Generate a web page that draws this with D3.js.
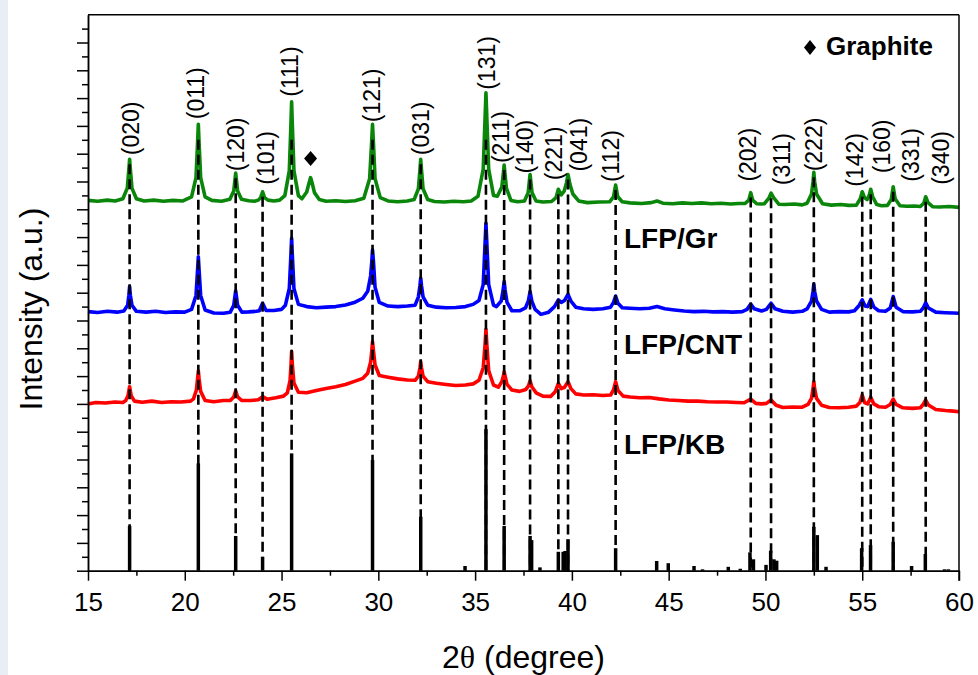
<!DOCTYPE html>
<html lang="en">
<head>
  <meta charset="UTF-8">
  <title>XRD patterns - LFP/Gr, LFP/CNT, LFP/KB</title>
  <script src="https://d3js.org/d3.v7.min.js"></script>
  <style>
    body {
      margin: 0;
      background: #fff;
      font-family: "Liberation Sans", Arial, sans-serif;
    }
    .trace {
      fill: none;
      stroke-width: 3.6;
      stroke-linejoin: round;
    }
    .stick {
      stroke: #000;
      stroke-width: 3.5;
    }
    .guide {
      stroke: #000;
      stroke-width: 2.6;
      stroke-dasharray: 10, 5;
    }
    .axis path,
    .axis line {
      stroke: #000;
      stroke-width: 1.5;
    }
    .axis text {
      font-family: "Liberation Sans", Arial, sans-serif;
      font-size: 26px;
      fill: #000;
    }
    .hkl {
      font-size: 23px;
      fill: #000;
    }
    .sample {
      font-size: 28px;
      font-weight: bold;
      fill: #000;
    }
    .axis-title {
      font-size: 32px;
      fill: #000;
    }
  </style>
</head>
<body>
  <div id="chart"></div>
  <script>
    // measured patterns, [2theta, intensity a.u.] (stacked offsets included)
    const grPattern = [
      [15.0,13.32],[15.5,13.29],[16.0,13.33],[16.4,13.30],
      [16.80,13.38],[17.03,13.76],[17.11,14.43],[17.15,14.80],[17.19,14.43],[17.27,13.76],[17.50,13.38],
      [17.9,13.30],[18.4,13.33],[18.9,13.29],[19.4,13.32],[19.9,13.30],
      [20.35,13.45],[20.58,14.14],[20.66,15.37],[20.70,16.06],[20.74,15.37],[20.82,14.14],[21.05,13.45],
      [21.4,13.32],[21.9,13.29],
      [22.33,13.36],[22.53,13.66],[22.63,14.30],[22.73,13.66],[22.93,13.36],
      [23.3,13.31],[23.6,13.29],
      [23.80,13.33],[23.92,13.42],[24.02,13.63],[24.12,13.42],[24.30,13.33],
      [24.6,13.30],[24.9,13.33],
      [25.17,13.49],[25.40,14.38],[25.48,15.98],[25.52,16.87],[25.56,15.98],[25.64,14.38],[25.87,13.49],
      [26.05,13.38],[26.30,13.62],[26.42,13.95],[26.50,14.14],[26.58,13.95],[26.70,13.60],[26.95,13.35],
      [27.3,13.29],[27.8,13.31],[28.3,13.28],[28.8,13.31],
      [29.25,13.40],[29.55,14.10],[29.65,15.35],[29.70,16.06],[29.75,15.35],[29.83,14.10],[30.10,13.42],
      [30.5,13.30],[31.0,13.27],[31.5,13.30],
      [31.85,13.35],[32.07,13.74],[32.15,14.42],[32.19,14.80],[32.23,14.42],[32.31,13.74],[32.55,13.35],
      [32.9,13.28],[33.4,13.26],[33.9,13.29],[34.4,13.27],[34.8,13.30],
      [35.15,13.47],[35.42,14.45],[35.51,16.20],[35.56,17.19],[35.61,16.20],[35.70,14.45],[35.95,13.50],
      [36.15,13.47],[36.38,13.80],[36.46,14.30],[36.50,14.59],[36.54,14.30],[36.62,13.75],[36.85,13.32],
      [37.2,13.27],
      [37.55,13.30],[37.74,13.60],[37.84,14.25],[37.94,13.60],[38.15,13.30],
      [38.5,13.26],
      [38.95,13.28],[39.18,13.42],[39.30,13.72],[39.45,13.52],[39.60,13.65],[39.72,13.95],[39.80,14.25],[39.90,13.90],[40.05,13.55],[40.35,13.30],
      [40.8,13.24],[41.4,13.26],
      [41.95,13.27],[42.15,13.45],[42.26,13.87],[42.37,13.45],[42.60,13.27],
      [43.0,13.23],[43.6,13.21],[44.1,13.24],[44.4,13.30],[44.7,13.22],[45.2,13.20],[45.7,13.23],[46.2,13.21],
      [46.7,13.23],[47.2,13.20],[47.7,13.22],[48.2,13.19],[48.6,13.21],
      [48.95,13.21],[49.14,13.33],[49.24,13.60],[49.34,13.33],[49.55,13.20],
      [49.8,13.19],
      [49.95,13.20],[50.18,13.40],[50.29,13.58],[50.42,13.42],[50.70,13.18],
      [51.0,13.17],[51.5,13.19],[51.9,13.16],
      [52.15,13.22],[52.38,13.55],[52.46,14.00],[52.50,14.33],[52.54,14.00],[52.64,13.55],[52.95,13.20],
      [53.4,13.15],[53.9,13.17],[54.3,13.14],
      [54.70,13.15],[54.90,13.38],[55.00,13.63],[55.12,13.42],[55.25,13.35],[55.36,13.50],[55.44,13.72],[55.54,13.45],[55.75,13.17],
      [56.0,13.13],
      [56.30,13.14],[56.50,13.35],[56.60,13.81],[56.70,13.38],[56.95,13.13],
      [57.3,13.11],[57.7,13.12],
      [58.00,13.10],[58.18,13.22],[58.28,13.45],[58.40,13.24],[58.65,13.09],
      [59.0,13.08],[59.5,13.10],[60.0,13.07]
    ];

    const cntPattern = [
      [15.0,9.32],[15.5,9.29],[16.0,9.33],[16.5,9.30],
      [16.85,9.34],[17.05,9.55],[17.11,9.90],[17.15,10.22],[17.19,9.90],[17.27,9.55],[17.50,9.33],
      [18.0,9.30],[18.5,9.33],[19.0,9.29],[19.5,9.31],[20.0,9.30],
      [20.35,9.40],[20.58,9.90],[20.66,10.80],[20.70,11.29],[20.74,10.80],[20.82,9.90],[21.05,9.38],
      [21.5,9.27],[22.0,9.26],
      [22.35,9.30],[22.53,9.55],[22.63,10.07],[22.73,9.55],[22.95,9.30],
      [23.3,9.31],[23.7,9.33],
      [23.85,9.35],[24.02,9.62],[24.20,9.36],
      [24.6,9.36],[25.0,9.40],
      [25.20,9.55],[25.40,10.15],[25.48,11.30],[25.52,11.96],[25.56,11.30],[25.64,10.15],[25.87,9.58],
      [26.3,9.50],[26.8,9.46],[27.3,9.48],[27.8,9.50],[28.3,9.56],[28.8,9.66],[29.2,9.80],
      [29.45,10.05],[29.60,10.60],[29.66,11.10],[29.70,11.54],[29.75,11.10],[29.83,10.20],[30.05,9.65],
      [30.5,9.52],[31.0,9.50],[31.5,9.52],[31.9,9.55],
      [32.07,9.85],[32.15,10.25],[32.19,10.52],[32.23,10.25],[32.31,9.85],[32.55,9.55],
      [33.0,9.48],[33.5,9.46],[34.0,9.47],[34.5,9.50],[34.9,9.58],[35.2,9.72],
      [35.42,10.30],[35.51,11.70],[35.56,12.50],[35.61,11.70],[35.70,10.30],[35.95,9.55],
      [36.1,9.50],
      [36.35,9.70],[36.45,10.10],[36.50,10.40],[36.55,10.10],[36.65,9.65],[36.9,9.35],
      [37.3,9.35],
      [37.60,9.45],[37.75,9.70],[37.84,10.04],[37.93,9.70],[38.10,9.40],
      [38.4,9.22],[38.8,9.30],
      [39.10,9.50],[39.30,9.74],[39.45,9.65],[39.62,9.72],[39.80,9.94],[39.95,9.70],[40.2,9.48],
      [40.6,9.42],[41.1,9.40],[41.6,9.42],
      [42.00,9.48],[42.15,9.65],[42.26,9.88],[42.38,9.62],[42.60,9.46],
      [43.0,9.44],[43.5,9.42],[44.0,9.44],[44.4,9.50],[44.8,9.42],[45.3,9.38],[45.8,9.34],[46.3,9.32],
      [46.8,9.33],[47.3,9.31],[47.8,9.32],[48.3,9.30],[48.8,9.32],
      [49.05,9.40],[49.24,9.59],[49.42,9.42],
      [49.8,9.34],
      [50.05,9.40],[50.29,9.62],[50.50,9.42],
      [50.9,9.33],[51.4,9.30],[51.9,9.33],
      [52.15,9.42],[52.38,9.70],[52.46,10.05],[52.50,10.31],[52.54,10.05],[52.64,9.70],[52.90,9.40],
      [53.3,9.30],[53.8,9.32],[54.3,9.31],[54.6,9.35],
      [54.85,9.55],[55.00,9.74],[55.15,9.52],[55.28,9.50],[55.44,9.76],[55.60,9.48],[55.85,9.35],
      [56.2,9.33],
      [56.45,9.45],[56.60,9.86],[56.75,9.48],
      [57.1,9.32],[57.6,9.31],[58.0,9.33],
      [58.15,9.45],[58.28,9.64],[58.42,9.45],
      [58.8,9.30],[59.3,9.28],[59.7,9.27],[60.0,9.26]
    ];

    const kbPattern = [
      [15.0,6.00],[15.4,6.05],[15.9,6.03],[16.4,6.07],[16.8,6.05],
      [16.95,6.12],[17.07,6.30],[17.15,6.62],[17.23,6.30],[17.40,6.10],
      [17.8,6.06],[18.3,6.10],[18.8,6.05],[19.3,6.08],[19.8,6.07],[20.3,6.10],
      [20.45,6.18],[20.60,6.50],[20.66,6.90],[20.70,7.19],[20.74,6.90],[20.82,6.45],[21.05,6.12],
      [21.5,6.08],[22.0,6.12],[22.35,6.12],
      [22.53,6.25],[22.63,6.47],[22.73,6.25],[22.95,6.12],
      [23.4,6.12],[23.8,6.15],
      [24.02,6.26],[24.25,6.17],
      [24.7,6.22],[25.1,6.28],
      [25.30,6.40],[25.44,6.85],[25.49,7.40],[25.52,7.88],[25.56,7.40],[25.64,6.75],[25.87,6.42],
      [26.3,6.40],[26.8,6.48],[27.3,6.55],[27.8,6.62],[28.3,6.70],[28.8,6.82],[29.2,6.92],
      [29.45,7.10],[29.60,7.50],[29.66,7.90],[29.70,8.24],[29.75,7.90],[29.83,7.40],[30.05,7.02],
      [30.5,6.96],[31.0,6.90],[31.5,6.86],[31.9,6.85],
      [32.07,7.00],[32.15,7.30],[32.19,7.52],[32.23,7.30],[32.31,7.00],[32.55,6.80],
      [33.0,6.74],[33.5,6.70],[34.0,6.66],[34.5,6.68],[34.9,6.72],[35.2,6.85],
      [35.42,7.30],[35.51,8.10],[35.56,8.68],[35.61,8.10],[35.70,7.20],[35.95,6.68],
      [36.2,6.60],
      [36.38,6.80],[36.46,7.00],[36.50,7.16],[36.55,7.00],[36.65,6.70],[36.9,6.50],
      [37.3,6.45],
      [37.62,6.52],[37.76,6.65],[37.84,6.83],[37.93,6.62],[38.15,6.40],
      [38.5,6.28],[38.9,6.27],
      [39.15,6.45],[39.30,6.74],[39.45,6.55],[39.62,6.60],[39.80,6.80],[39.95,6.55],[40.2,6.36],
      [40.6,6.32],[41.1,6.33],[41.6,6.30],[42.0,6.32],
      [42.15,6.50],[42.26,6.80],[42.38,6.48],[42.65,6.28],
      [43.0,6.25],[43.5,6.22],[44.0,6.23],[44.5,6.18],[45.0,6.14],[45.5,6.12],[46.0,6.10],[46.5,6.10],
      [47.0,6.08],[47.5,6.07],[48.0,6.07],[48.5,6.05],[48.9,6.04],
      [49.24,6.17],[49.50,6.02],
      [49.8,6.00],
      [50.05,6.02],[50.29,6.14],[50.55,5.95],
      [50.9,5.87],[51.4,5.89],[51.9,5.88],
      [52.20,5.98],[52.38,6.20],[52.46,6.55],[52.50,6.80],[52.54,6.55],[52.64,6.20],[52.90,5.95],
      [53.3,5.87],[53.8,5.86],[54.3,5.88],[54.7,5.92],
      [54.88,6.05],[55.00,6.32],[55.12,6.05],[55.28,6.00],[55.44,6.24],[55.60,6.00],[55.85,5.90],
      [56.2,5.88],
      [56.45,5.98],[56.60,6.17],[56.75,5.98],
      [57.1,5.86],[57.6,5.84],[58.0,5.86],
      [58.15,5.98],[58.28,6.14],[58.42,5.96],
      [58.8,5.80],[59.3,5.76],[59.7,5.74],[60.0,5.72]
    ];

    // standard LiFePO4 reference lines
    const refTheta = [17.15,20.70,22.63,24.02,25.52,29.70,32.19,34.48,35.56,36.50,
      37.84,37.92,38.35,39.30,39.55,39.65,39.80,42.26,44.38,44.98,
      46.31,46.75,48.08,48.70,49.20,49.38,50.03,50.27,50.44,50.58,
      52.50,52.68,53.13,54.97,55.43,56.60,57.55,58.26,59.25,59.45];
    const refIntensity = [1.61,3.86,1.25,0.50,4.22,3.98,1.94,0.17,5.09,1.61,
      1.25,1.10,0.12,0.68,0.68,0.71,1.13,0.81,0.35,0.27,
      0.17,0.05,0.14,0.07,0.66,0.41,0.21,0.72,0.41,0.36,
      1.58,1.28,0.14,0.81,0.92,1.04,0.17,0.60,0.05,0.05];

    // indexed reflections
    const hkl = ["(020)","(011)","(120)","(101)","(111)","(121)","(031)","(131)","(211)","(140)",
      "(221)","(041)","(112)","(202)","(311)","(222)","(142)","(160)","(331)","(340)"];
    const hklTheta = [17.15,20.70,22.63,24.02,25.52,29.70,32.19,35.56,36.50,37.84,
      39.30,39.80,42.26,49.24,50.29,52.50,55.00,55.44,56.60,58.28];

    const graphiteTheta = 26.50;
    const samples = ["LFP/Gr", "LFP/CNT", "LFP/KB"];
    const xTicks = [15, 20, 25, 30, 35, 40, 45, 50, 55, 60];

    // label placement tweaks [dx px, lift px] so the rotated labels don't collide
    const labelNudge = [[1,4],[-2,5],[0,2],[3,7],[-2,5],[-1,2],[0,4],[1,3],[-3,2],[-5,1],
      [-4,9],[11,3],[-5,3],[-3,11],[11,8],[0,1],[-7,5],[11,16],[18,5],[15,12]];

    const svgWidth = 978;
    const svgHeight = 675;
    const margin = { top: 14.7, right: 19, bottom: 104.3, left: 88 };
    const width = svgWidth - margin.left - margin.right;
    const height = svgHeight - margin.top - margin.bottom;

    const x = d3.scaleLinear().domain([15, 60]).range([0, width]);
    const y = d3.scaleLinear().domain([0, 20]).range([height, 0]);

    const root = d3.select("#chart").append("svg")
      .attr("width", svgWidth)
      .attr("height", svgHeight);

    root.append("rect")
      .attr("x", 0).attr("y", 0)
      .attr("width", 8).attr("height", svgHeight)
      .attr("fill", "#e9edf6");

    const svg = root.append("g")
      .attr("transform", `translate(${margin.left},${margin.top})`);

    // reference sticks
    svg.selectAll(".stick")
      .data(refTheta)
      .enter()
      .append("line")
      .attr("class", "stick")
      .attr("x1", d => x(d)).attr("x2", d => x(d))
      .attr("y1", y(0))
      .attr("y2", (d, i) => y(refIntensity[i]));

    const line = d3.line()
      .x(d => x(d[0]))
      .y(d => y(d[1]));

    const traces = [
      { data: kbPattern, color: "#ff0000" },
      { data: cntPattern, color: "#0000ff" },
      { data: grPattern, color: "#0a870a" }
    ];

    svg.selectAll(".trace")
      .data(traces)
      .enter()
      .append("path")
      .attr("class", "trace")
      .attr("stroke", d => d.color)
      .attr("d", d => line(d.data));

    function grTop(t) {
      return d3.max(grPattern.filter(p => Math.abs(p[0] - t) < 0.03), p => p[1]);
    }

    // dashed guides from the Gr peaks down to the reference lines
    svg.selectAll(".guide")
      .data(hklTheta)
      .enter()
      .append("line")
      .attr("class", "guide")
      .attr("x1", d => x(d)).attr("x2", d => x(d))
      .attr("y1", d => Math.max(y(grTop(d)) + 5, 125))
      .attr("y2", y(0));

    // hkl labels
    svg.selectAll(".hkl")
      .data(hkl)
      .enter()
      .append("text")
      .attr("class", "hkl")
      .attr("transform", (d, i) => {
        const px = x(hklTheta[i]) + labelNudge[i][0];
        const py = y(grTop(hklTheta[i])) - labelNudge[i][1];
        return `translate(${px},${py}) rotate(-90)`;
      })
      .attr("dy", "0.35em")
      .text(d => d);

    function diamond(cx, cy, w, h) {
      return `M${cx},${cy - h}L${cx + w},${cy}L${cx},${cy + h}L${cx - w},${cy}Z`;
    }

    // graphite marker on the Gr pattern
    svg.append("path")
      .attr("d", diamond(x(graphiteTheta), y(grTop(graphiteTheta)) - 19, 6.5, 7.5))
      .attr("fill", "#000");

    // legend
    svg.append("path")
      .attr("d", diamond(810 - margin.left, 47.5 - margin.top, 6, 7.5))
      .attr("fill", "#000");
    svg.append("text")
      .attr("class", "sample")
      .attr("x", 826 - margin.left)
      .attr("y", 55 - margin.top)
      .style("font-size", "26px")
      .text("Graphite");

    // sample names
    const sampleY = [248, 354, 454];
    svg.selectAll(".sample-name")
      .data(samples)
      .enter()
      .append("text")
      .attr("class", "sample sample-name")
      .attr("x", 624 - margin.left)
      .attr("y", (d, i) => sampleY[i] - margin.top)
      .text(d => d);

    // axes
    const minorX = d3.range(17.5, 60, 5);
    svg.append("g")
      .attr("class", "axis")
      .attr("transform", `translate(0,${height})`)
      .call(d3.axisBottom(x).tickValues(minorX).tickSize(5).tickSizeOuter(0).tickFormat(""));

    const xAxis = svg.append("g")
      .attr("class", "axis")
      .attr("transform", `translate(0,${height})`)
      .call(d3.axisBottom(x).tickValues(xTicks).tickSize(10).tickSizeOuter(0).tickFormat(d3.format("d")));
    xAxis.selectAll("text").attr("y", 40).attr("dy", null);

    svg.append("g")
      .attr("class", "axis")
      .call(d3.axisLeft(y).tickValues(d3.range(0.5, 20, 1)).tickSize(6).tickSizeOuter(0).tickFormat(""));

    svg.append("g")
      .attr("class", "axis")
      .call(d3.axisLeft(y).tickValues(d3.range(0, 20, 1)).tickSize(11).tickSizeOuter(0).tickFormat(""));

    // frame top / right
    svg.append("line")
      .attr("x1", 0).attr("x2", width).attr("y1", 0).attr("y2", 0)
      .attr("stroke", "#000").attr("stroke-width", 1.5);
    svg.append("line")
      .attr("x1", width).attr("x2", width).attr("y1", 0).attr("y2", height)
      .attr("stroke", "#000").attr("stroke-width", 1.5);
    svg.append("line")
      .attr("x1", width).attr("x2", width).attr("y1", height).attr("y2", height + 10)
      .attr("stroke", "#000").attr("stroke-width", 1.5);

    // axis titles
    const xTitle = root.append("text")
      .attr("class", "axis-title")
      .attr("x", margin.left + width / 2)
      .attr("y", 668)
      .attr("text-anchor", "middle");
    xTitle.append("tspan").text("2");
    xTitle.append("tspan").style("font-family", "'Liberation Serif', serif").text("θ");
    xTitle.append("tspan").text(" (degree)");

    root.append("text")
      .attr("class", "axis-title")
      .attr("transform", "translate(41.5,309) rotate(-90)")
      .attr("text-anchor", "middle")
      .text("Intensity (a.u.)");
  </script>
</body>
</html>
